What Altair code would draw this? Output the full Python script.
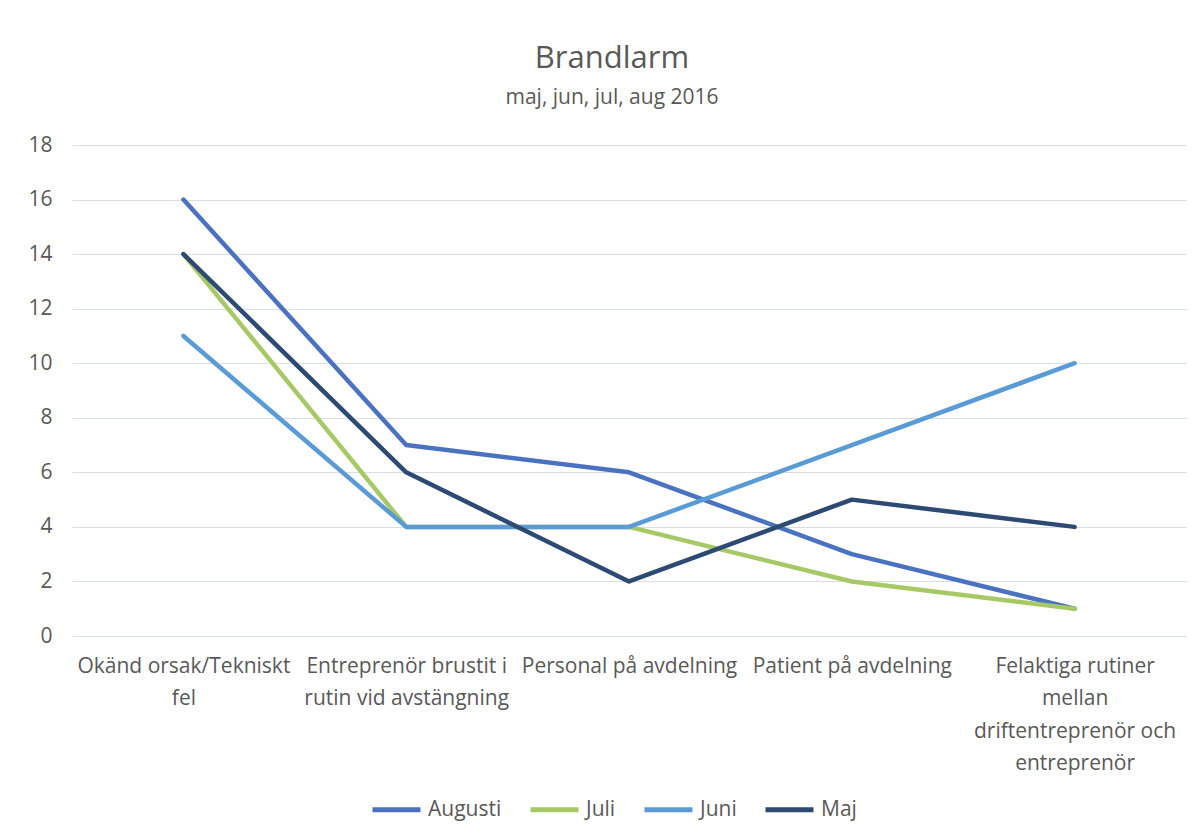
import altair as alt
import pandas as pd

categories = [
    "Okänd orsak/Tekniskt fel",
    "Entreprenör brustit i rutin vid avstängning",
    "Personal på avdelning",
    "Patient på avdelning",
    "Felaktiga rutiner mellan driftentreprenör och entreprenör",
]
label_lines = [
    ["Okänd orsak/Tekniskt", "fel"],
    ["Entreprenör brustit i", "rutin vid avstängning"],
    ["Personal på avdelning"],
    ["Patient på avdelning"],
    ["Felaktiga rutiner", "mellan", "driftentreprenör och", "entreprenör"],
]
series = ["Augusti", "Juli", "Juni", "Maj"]
augusti = [16, 7, 6, 3, 1]
juli = [14, 4, 4, 2, 1]
juni = [11, 4, 4, 7, 10]
maj = [14, 6, 2, 5, 4]
colors = ["#4a72c0", "#a6c965", "#5b9bd5", "#2c4a72"]
y_ticks = [0, 2, 4, 6, 8, 10, 12, 14, 16, 18]

rows = []
for name, vals in zip(series, [augusti, juli, juni, maj]):
    for i, (c, v) in enumerate(zip(categories, vals)):
        rows.append({"Kategori": c, "Serie": name, "Antal": v, "ord": series.index(name)})
df = pd.DataFrame(rows)

expr_parts = []
for c, lines in zip(categories, label_lines):
    arr = "[" + ",".join("'" + l + "'" for l in lines) + "]"
    expr_parts.append(f"datum.value == '{c}' ? {arr}")
label_expr = " : ".join(expr_parts) + " : datum.value"

FONT = "Open Sans"
TXT = "#595959"

chart = (
    alt.Chart(df)
    .mark_line(strokeWidth=4.5, strokeCap="round", strokeJoin="round")
    .encode(
        x=alt.X(
            "Kategori:N",
            sort=categories,
            scale=alt.Scale(paddingOuter=0.5, paddingInner=1),
            axis=alt.Axis(
                title=None,
                labelAngle=0,
                labelExpr=label_expr,
                labelFont=FONT,
                labelFontSize=21,
                labelColor=TXT,
                labelLineHeight=32.5,
                labelPadding=19,
                labelBaseline="top",
                labelLimit=300,
                ticks=False,
                domain=False,
                grid=False,
            ),
        ),
        y=alt.Y(
            "Antal:Q",
            scale=alt.Scale(domain=[0, 18], nice=False),
            axis=alt.Axis(
                title=None,
                values=y_ticks,
                labelFont=FONT,
                labelFontSize=21,
                labelColor=TXT,
                labelPadding=20,
                ticks=False,
                domain=False,
                gridColor="#d9dde6",
                gridWidth=1,
            ),
        ),
        color=alt.Color(
            "Serie:N",
            scale=alt.Scale(domain=series, range=colors),
            legend=alt.Legend(
                title=None,
                orient="none",
                direction="horizontal",
                legendX=298,
                legendY=638,
                symbolType="stroke",
                symbolSize=2304,
                symbolStrokeWidth=5,
                labelFont=FONT,
                labelFontSize=21,
                labelColor=TXT,
                labelOffset=5,
                columnPadding=18,
            ),
        ),
        order="ord:Q",
        detail="Serie:N",
    )
    .properties(
        width=1114,
        height=491,
        background="white",
        autosize=alt.AutoSizeParams(type="none"),
        padding={"left": 64, "top": 137, "right": 10, "bottom": 190},
        title=alt.TitleParams(
            text="Brandlarm",
            subtitle="maj, jun, jul, aug 2016",
            font=FONT,
            fontSize=31,
            fontWeight="normal",
            color=TXT,
            subtitleFont=FONT,
            subtitleFontSize=21,
            subtitleColor=TXT,
            subtitlePadding=12,
            anchor="middle",
            dx=-17,
            offset=25,
        ),
    )
    .configure_view(stroke=None)
)

chart.save("out.html", embed_options={"renderer": "svg", "actions": False})
